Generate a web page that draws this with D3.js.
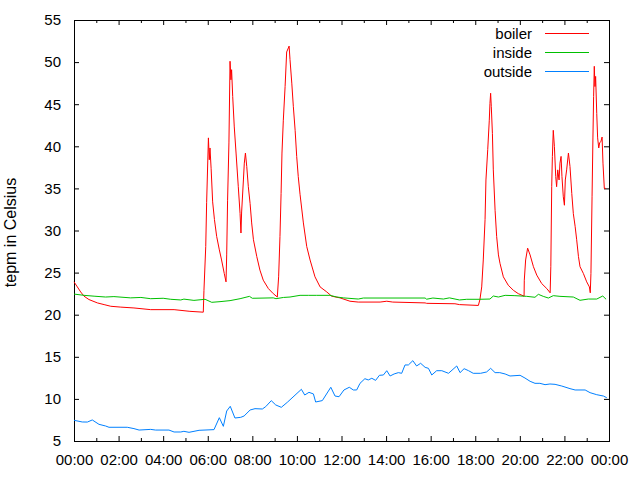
<!DOCTYPE html>
<html>
<head>
<meta charset="utf-8">
<script src="https://cdn.jsdelivr.net/npm/d3@7"></script>
<style>
  body { margin: 0; background: #fff; }
  text { font-family: "Liberation Sans", Arial, sans-serif; font-size: 15px; fill: #000; }
</style>
</head>
<body>
<div class="chart"></div>
<script>
//Data: time in hours of the day, temperature in Celsius
var boilerTime = [0, 0.15, 0.3, 0.45, 0.67, 1.05, 1.35, 1.65, 2.1, 2.69, 3.44, 4.49, 5.2, 5.8, 5.83, 5.91, 5.95, 6.03, 6.07, 6.1, 6.15, 6.22, 6.3, 6.4, 6.52, 6.62, 6.74, 6.82, 6.85, 6.89, 6.95, 7.0, 7.04, 7.07, 7.12, 7.19, 7.27, 7.37, 7.45, 7.49, 7.52, 7.6, 7.64, 7.69, 7.75, 7.82, 7.9, 7.97, 8.05, 8.2, 8.34, 8.49, 8.72, 8.94, 9.12, 9.18, 9.24, 9.29, 9.33, 9.39, 9.47, 9.54, 9.65, 9.69, 9.77, 9.84, 9.92, 9.99, 10.06, 10.14, 10.29, 10.44, 10.59, 10.81, 11.04, 11.34, 11.56, 11.93, 12.38, 12.75, 13.73, 14.03, 14.3, 15.75, 15.82, 17.09, 17.29, 18.14, 18.21, 18.29, 18.36, 18.44, 18.48, 18.56, 18.63, 18.66, 18.69, 18.72, 18.77, 18.81, 18.89, 18.96, 19.04, 19.11, 19.26, 19.48, 19.71, 19.93, 20.19, 20.2, 20.26, 20.35, 20.46, 20.61, 20.76, 20.98, 21.21, 21.36, 21.39, 21.43, 21.46, 21.5, 21.55, 21.61, 21.65, 21.7, 21.76, 21.8, 21.85, 21.89, 21.95, 22.0, 22.04, 22.1, 22.18, 22.25, 22.33, 22.4, 22.48, 22.55, 22.63, 22.7, 22.85, 23.0, 23.12, 23.16, 23.19, 23.24, 23.28, 23.31, 23.34, 23.37, 23.4, 23.45, 23.49, 23.54, 23.58, 23.64, 23.69, 23.73, 23.79, 23.86];
var boilerTemp = [23.9, 23.3, 22.7, 22.2, 21.8, 21.4, 21.2, 21.0, 20.9, 20.8, 20.6, 20.6, 20.4, 20.3, 22.9, 28.1, 33.3, 41.0, 38.4, 39.8, 37.4, 33.4, 31.3, 29.3, 27.7, 26.5, 24.9, 23.9, 27.1, 33.6, 40.4, 50.1, 47.9, 49.1, 45.9, 42.3, 39.2, 35.2, 32.0, 29.7, 32.2, 36.0, 38.0, 39.2, 37.6, 35.2, 33.2, 30.9, 28.9, 26.9, 25.3, 24.1, 23.1, 22.5, 22.1, 24.5, 29.3, 34.4, 39.2, 43.1, 47.1, 51.2, 51.9, 50.3, 47.5, 44.7, 41.9, 38.8, 36.4, 34.3, 30.9, 28.1, 26.5, 24.5, 23.3, 22.7, 22.2, 22.0, 21.6, 21.5, 21.5, 21.6, 21.5, 21.4, 21.35, 21.3, 21.2, 21.1, 21.8, 23.3, 26.5, 31.3, 36.0, 39.6, 43.1, 45.1, 46.3, 44.7, 41.5, 37.2, 32.4, 29.3, 27.1, 26.1, 24.5, 23.5, 22.9, 22.5, 22.2, 24.1, 26.5, 27.9, 27.1, 25.7, 24.7, 23.7, 23.1, 22.6, 25.7, 35.2, 38.8, 41.9, 40.0, 36.4, 35.2, 37.2, 36.0, 38.0, 38.8, 36.4, 34.0, 33.0, 36.0, 37.2, 39.2, 37.6, 34.4, 32.0, 30.5, 28.9, 26.9, 25.7, 24.9, 23.9, 23.3, 22.6, 24.9, 34.0, 41.1, 45.9, 49.5, 47.1, 48.3, 43.9, 41.0, 39.8, 40.4, 40.6, 41.1, 38.0, 35.0, 35.0];

var insideTime = [0, 0.45, 0.9, 1.42, 1.79, 2.54, 3.0, 3.44, 4.0, 4.34, 4.79, 4.93, 5.38, 5.88, 6.18, 6.55, 7.0, 7.45, 7.87, 8.0, 8.94, 9.06, 9.4, 9.69, 10.14, 10.51, 10.89, 11.48, 11.79, 12.08, 12.75, 12.98, 15.75, 15.82, 16.1, 16.57, 16.84, 17.29, 17.62, 18.21, 18.66, 18.81, 19.04, 19.34, 19.78, 20.31, 20.68, 20.83, 21.05, 21.28, 21.5, 21.8, 22.4, 22.7, 23.07, 23.45, 23.72, 23.87];
var insideTemp = [22.45, 22.3, 22.2, 22.1, 22.15, 22.0, 22.05, 21.9, 21.95, 21.83, 21.75, 21.85, 21.7, 21.83, 21.47, 21.55, 21.67, 21.9, 22.18, 21.95, 22.0, 21.9, 22.05, 22.1, 22.3, 22.3, 22.3, 22.3, 22.1, 22.0, 21.86, 21.98, 21.98, 21.84, 21.98, 21.86, 22.0, 21.75, 21.83, 21.83, 21.86, 22.22, 22.1, 22.3, 22.26, 22.18, 22.07, 22.42, 22.18, 21.98, 22.26, 22.18, 22.1, 21.71, 21.86, 21.86, 22.22, 21.83];

var outsideTime = [0, 0.37, 0.6, 0.82, 1.12, 1.42, 1.57, 2.39, 2.69, 2.92, 3.44, 3.66, 4.26, 4.49, 4.79, 4.93, 5.16, 5.61, 6.28, 6.52, 6.7, 6.85, 7.01, 7.22, 7.48, 7.63, 7.9, 8.12, 8.45, 8.6, 8.85, 9.05, 9.3, 9.57, 10.2, 10.35, 10.54, 10.74, 10.84, 11.14, 11.52, 11.71, 11.89, 12.11, 12.35, 12.53, 12.68, 12.83, 13.05, 13.2, 13.36, 13.53, 13.7, 13.88, 14.03, 14.18, 14.36, 14.55, 14.7, 14.85, 15.0, 15.2, 15.37, 15.55, 15.75, 15.9, 16.05, 16.27, 16.5, 16.8, 17.17, 17.32, 17.5, 17.7, 17.91, 18.24, 18.51, 18.69, 18.89, 19.1, 19.34, 19.56, 20.01, 20.23, 20.46, 20.68, 20.9, 21.13, 21.35, 21.58, 21.88, 22.25, 22.48, 22.93, 23.15, 23.45, 23.75, 23.9];
var outsideTemp = [7.46, 7.26, 7.25, 7.5, 6.98, 6.78, 6.63, 6.63, 6.47, 6.3, 6.38, 6.3, 6.3, 6.07, 6.07, 6.15, 6.03, 6.27, 6.35, 7.77, 6.74, 8.56, 9.12, 7.73, 7.81, 7.97, 8.68, 8.84, 8.8, 9.08, 9.79, 9.28, 9.0, 9.6, 11.14, 10.46, 10.78, 10.59, 9.63, 9.8, 11.38, 10.34, 10.26, 11.06, 11.38, 11.06, 11.06, 11.85, 12.4, 12.25, 12.45, 12.2, 12.8, 12.84, 13.35, 12.72, 12.96, 13.12, 13.04, 14.03, 14.03, 14.54, 13.91, 14.23, 13.75, 13.63, 12.84, 13.35, 13.35, 13.04, 13.91, 13.12, 13.59, 13.35, 13.04, 13.04, 13.2, 13.63, 13.12, 13.12, 12.96, 12.72, 12.8, 12.48, 12.09, 11.85, 11.85, 11.69, 11.77, 11.73, 11.53, 11.22, 11.06, 11.06, 10.74, 10.5, 10.34, 10.14];

var seriesNames = ["boiler", "inside", "outside"];
var seriesColors = ["#ff0000", "#00c000", "#0080ff"];
var yTicks = [5, 10, 15, 20, 25, 30, 35, 40, 45, 50, 55];
var xMajorTicks = [0, 2, 4, 6, 8, 10, 12, 14, 16, 18, 20, 22, 24];
var xMinorTicks = [1, 3, 5, 7, 9, 11, 13, 15, 17, 19, 21, 23];

//Chart size
var svgWidth = 640;
var svgHeight = 480;

var margin = {
    top: 20,
    bottom: 39,
    left: 74,
    right: 31
};

var chartWidth = svgWidth - margin.left - margin.right;
var chartHeight = svgHeight - margin.top - margin.bottom;

var svg = d3.select(".chart")
    .append("svg")
    .attr("width", svgWidth)
    .attr("height", svgHeight);

var chartGroup = svg.append("g")
    .attr("transform", `translate(${margin.left}, ${margin.top})`);

//Scales
var xScale = d3.scaleLinear()
    .domain([0, 24])
    .range([0, chartWidth]);

var yScale = d3.scaleLinear()
    .domain([5, 55])
    .range([chartHeight, 0]);

var hourFormat = function(d) {
    return d3.format("02d")(d % 24) + ":00";
};

//Axes (ticks pointing into the plot, gnuplot style)
var bottomAxis = d3.axisBottom(xScale)
    .tickValues(xMajorTicks)
    .tickFormat(hourFormat)
    .tickSize(-5)
    .tickPadding(13);
var bottomMinor = d3.axisBottom(xScale).tickValues(xMinorTicks).tickFormat("").tickSize(-3);
var topAxis = d3.axisTop(xScale).tickValues(xMajorTicks).tickFormat("").tickSize(-5);
var topMinor = d3.axisTop(xScale).tickValues(xMinorTicks).tickFormat("").tickSize(-3);
var leftAxis = d3.axisLeft(yScale).tickValues(yTicks).tickSize(-5).tickPadding(13);
var rightAxis = d3.axisRight(yScale).tickValues(yTicks).tickFormat("").tickSize(-5);

chartGroup.append("g").attr("transform", `translate(0, ${chartHeight})`).call(bottomAxis);
chartGroup.append("g").attr("transform", `translate(0, ${chartHeight})`).call(bottomMinor);
chartGroup.append("g").call(topAxis);
chartGroup.append("g").call(topMinor);
chartGroup.append("g").call(leftAxis);
chartGroup.append("g").attr("transform", `translate(${chartWidth}, 0)`).call(rightAxis);

chartGroup.selectAll(".domain").remove();
chartGroup.selectAll(".tick line").attr("stroke", "#000");
chartGroup.selectAll(".tick text")
    .attr("font-family", null)
    .attr("font-size", null)
    .attr("fill", null);

//Border
chartGroup.append("rect")
    .attr("x", 0.5)
    .attr("y", 0.5)
    .attr("width", chartWidth)
    .attr("height", chartHeight)
    .attr("fill", "none")
    .attr("stroke", "#000");

//Lines
var lineGen = d3.line()
    .x(d => xScale(d[0]))
    .y(d => yScale(d[1]));

var seriesData = [
    d3.zip(boilerTime, boilerTemp),
    d3.zip(insideTime, insideTemp),
    d3.zip(outsideTime, outsideTemp)
];

chartGroup.selectAll(".series")
    .data(seriesData)
    .enter()
    .append("path")
    .attr("class", "series")
    .attr("d", lineGen)
    .attr("fill", "none")
    .attr("stroke", (d, i) => seriesColors[i])
    .attr("stroke-width", 1);

//Legend
var legend = chartGroup.selectAll(".legend")
    .data(seriesNames)
    .enter()
    .append("g")
    .attr("class", "legend")
    .attr("transform", (d, i) => `translate(0, ${13.5 + i * 19})`);

legend.append("text")
    .attr("x", 458)
    .attr("dy", "0.35em")
    .attr("text-anchor", "end")
    .text(d => d);

legend.append("line")
    .attr("x1", 471)
    .attr("x2", 515)
    .attr("stroke", (d, i) => seriesColors[i]);

//y axis label
chartGroup.append("text")
    .attr("transform", "rotate(-90)")
    .attr("x", 0 - (chartHeight / 2 + 2))
    .attr("y", 16 - margin.left)
    .attr("text-anchor", "middle")
    .style("font-size", "16px")
    .text("tepm in Celsius");
</script>
</body>
</html>
